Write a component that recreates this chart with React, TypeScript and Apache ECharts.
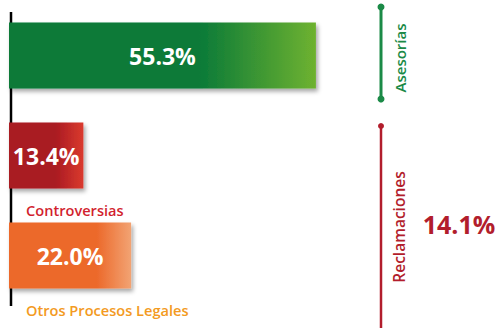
import React, { useEffect, useRef } from "react";
import * as echarts from "echarts";

const categories = ["Asesorías", "Controversias", "Otros Procesos Legales"];
const values = [55.3, 13.4, 22.0];
const showCategoryName = [false, true, true];
const barColors = [
  ["#0a7a38", "#0a7a38", "#6eb22f"],
  ["#a91a22", "#a91a22", "#da3a2e"],
  ["#ec692b", "#ec692b", "#f2a373"],
];
const nameColors = ["#0a7a38", "#d21f2f", "#f39a22"];
const groupLabels = ["Asesorías", "Reclamaciones"];
const groupValues = [null, 14.1];

const FONT = "'Open Sans', 'Noto Sans', sans-serif";

export default function App() {
  const ref = useRef<HTMLDivElement>(null);
  useEffect(() => {
    if (!ref.current) return;
    const chart = echarts.init(ref.current, undefined, { renderer: "svg" });
    const gridTop = 5.5;
    const band = 100;
    const barW = 66;
    const graphic: any[] = [
      {
        type: "line",
        z: 0,
        shape: { x1: 11, y1: 12, x2: 11, y2: 306 },
        style: { stroke: "#000", lineWidth: 2.5 },
      },
    ];
    categories.forEach((c, i) => {
      if (!showCategoryName[i]) return;
      graphic.push({
        type: "text",
        z: 10,
        x: 26,
        y: gridTop + band * i + band / 2 + barW / 2 + 21,
        style: {
          text: c,
          fill: nameColors[i],
          font: `600 14.6px ${FONT}`,
          textAlign: "left",
          textVerticalAlign: "middle",
        },
      });
    });
    graphic.push(
      { type: "line", z: 5, shape: { x1: 381, y1: 7, x2: 381, y2: 99 }, style: { stroke: "#1b8a47", lineWidth: 3 } },
      { type: "circle", z: 5, shape: { cx: 381, cy: 7, r: 3.5 }, style: { fill: "#1b8a47" } },
      { type: "circle", z: 5, shape: { cx: 381, cy: 99, r: 3.5 }, style: { fill: "#1b8a47" } },
      {
        type: "text", z: 5, x: 400, y: 58, rotation: Math.PI / 2,
        style: { text: groupLabels[0], fill: "#1b8a47", font: `600 15px ${FONT}`, textAlign: "center", textVerticalAlign: "middle" },
      },
      { type: "line", z: 5, shape: { x1: 381, y1: 126, x2: 381, y2: 330 }, style: { stroke: "#b21d2c", lineWidth: 2.5 } },
      { type: "circle", z: 5, shape: { cx: 381, cy: 126, r: 3 }, style: { fill: "#b21d2c" } },
      {
        type: "text", z: 5, x: 399, y: 227, rotation: Math.PI / 2,
        style: { text: groupLabels[1], fill: "#b21d2c", font: `600 15.5px ${FONT}`, textAlign: "center", textVerticalAlign: "middle" },
      },
      {
        type: "text", z: 5, x: 459, y: 224,
        style: { text: `${groupValues[1]!.toFixed(1)}%`, fill: "#b21d2c", font: `bold 25px ${FONT}`, textAlign: "center", textVerticalAlign: "middle" },
      }
    );

    chart.setOption({
      animation: false,
      grid: { left: 9, top: gridTop, height: band * 3, width: 333 },
      xAxis: { type: "value", min: 0, max: 60, show: false },
      yAxis: { type: "category", data: categories, inverse: true, show: false },
      graphic,
      series: [
        {
          type: "bar",
          z: 5,
          barWidth: barW,
          data: values.map((v, i) => ({
            value: v,
            itemStyle: {
              color: new echarts.graphic.LinearGradient(0, 0, 1, 0, [
                { offset: 0, color: barColors[i][0] },
                { offset: i === 2 ? 0.72 : 0.62, color: barColors[i][1] },
                { offset: 1, color: barColors[i][2] },
              ]),
              shadowColor: "rgba(0,0,0,0.35)",
              shadowBlur: 4,
              shadowOffsetX: 2,
              shadowOffsetY: 3,
            },
          })),
          label: {
            show: true,
            position: "inside",
            color: "#fff",
            fontFamily: FONT,
            fontWeight: "bold",
            fontSize: 23,
            formatter: (p: any) => `${Number(p.value).toFixed(1)}%`,
          },
        },
      ],
    });
    return () => chart.dispose();
  }, []);
  return (
    <div
      ref={ref}
      style={{ position: "fixed", left: 0, top: 0, width: 496, height: 328, background: "#fff" }}
    />
  );
}
